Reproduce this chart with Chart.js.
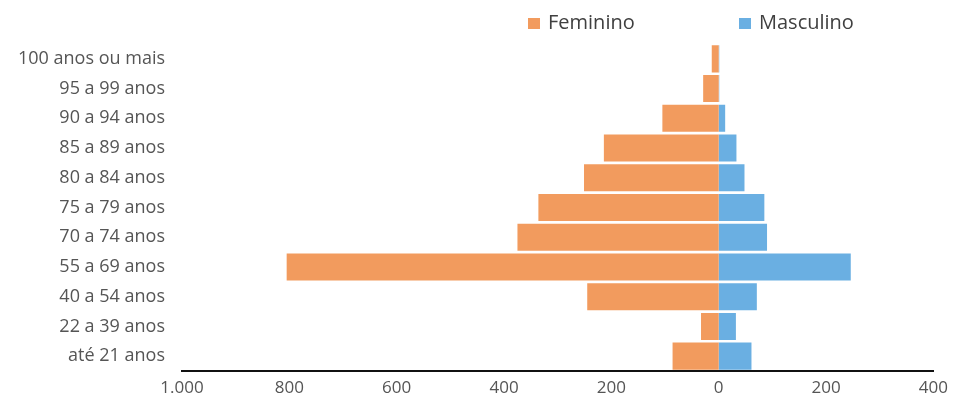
<!DOCTYPE html>
<html>
<head>
<meta charset="utf-8">
<script src="https://cdn.jsdelivr.net/npm/chart.js@4"></script>
<style>
  html, body { margin: 0; padding: 0; background: #fff; }
  #wrap { width: 955px; height: 408px; }
</style>
</head>
<body>
<div id="wrap"><canvas id="myChart" width="955" height="408"></canvas></div>
<script>
// faixas etarias, de cima para baixo
const faixas = ['100 anos ou mais', '95 a 99 anos', '90 a 94 anos', '85 a 89 anos', '80 a 84 anos',
    '75 a 79 anos', '70 a 74 anos', '55 a 69 anos', '40 a 54 anos', '22 a 39 anos', 'até 21 anos'];
const feminino = [13, 29, 105, 214, 251, 336, 375, 805, 245, 33, 86];
const masculino = [1, 1, 12, 33, 48, 85, 90, 246, 71, 32, 61];
const xTicks = [-1000, -800, -600, -400, -200, 0, 200, 400];

const corFem = '#F29B5E';
const corMasc = '#6AAFE2';

// legenda desenhada à mão pra ficar no mesmo lugar do original
const legendaTopo = {
    id: 'legendaTopo',
    afterDraw(chart) {
        const c = chart.ctx;
        const itens = [
            { x: 528, ds: chart.data.datasets[0] },
            { x: 739, ds: chart.data.datasets[1] }
        ];
        c.save();
        c.font = '20px "Open Sans"';
        c.textBaseline = 'middle';
        itens.forEach(it => {
            c.fillStyle = it.ds.backgroundColor;
            c.fillRect(it.x, 18, 12, 11);
            c.fillStyle = '#404040';
            c.fillText(it.ds.label, it.x + 20, 23);
        });
        c.restore();
    }
};

const ctx = document.getElementById('myChart').getContext('2d');
const myChart = new Chart(ctx, {
    type: 'bar',
    data: {
        labels: faixas,
        datasets: [{
            label: 'Feminino',
            data: feminino.map(v => -v),
            backgroundColor: corFem,
            categoryPercentage: 1,
            barPercentage: 0.91
        }, {
            label: 'Masculino',
            data: masculino,
            backgroundColor: corMasc,
            categoryPercentage: 1,
            barPercentage: 0.91
        }]
    },
    options: {
        indexAxis: 'y',
        responsive: false,
        animation: false,
        layout: {
            padding: { top: 44, right: 18, bottom: 0, left: 0 }
        },
        plugins: {
            legend: { display: false },
            tooltip: { enabled: false }
        },
        scales: {
            x: {
                stacked: true,
                min: -1000,
                max: 400,
                afterBuildTicks: scale => {
                    scale.ticks = xTicks.map(v => ({ value: v }));
                },
                afterFit: scale => { scale.height = 37; },
                grid: { display: false, drawTicks: false },
                border: { display: true, color: '#111', width: 2 },
                ticks: {
                    padding: 7,
                    color: '#555',
                    font: { family: 'Open Sans', size: 17 },
                    maxRotation: 0,
                    callback: v => Math.abs(v).toLocaleString('pt-BR')
                }
            },
            y: {
                stacked: true,
                afterFit: scale => { scale.width = 182; },
                grid: { display: false, drawTicks: false },
                border: { display: false },
                ticks: {
                    padding: 17,
                    color: '#555',
                    font: { family: 'Open Sans', size: 18 }
                }
            }
        }
    },
    plugins: [legendaTopo]
});
</script>
</body>
</html>
